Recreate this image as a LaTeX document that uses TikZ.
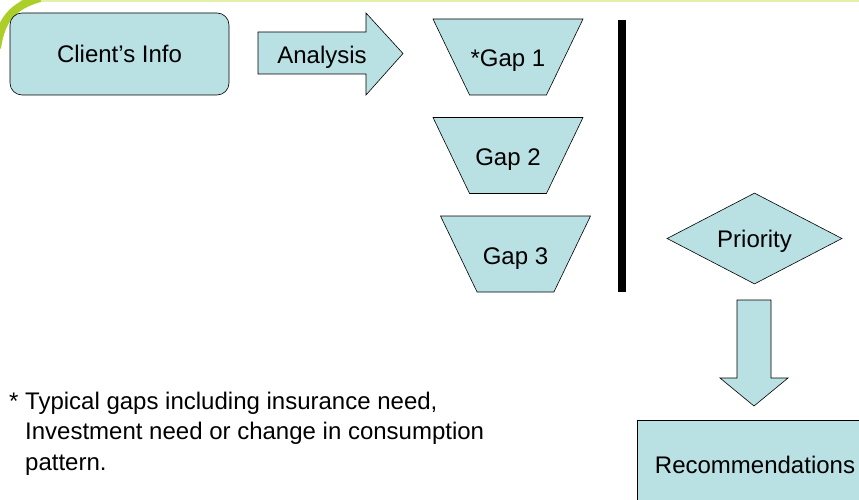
\documentclass[tikz,border=0pt]{standalone}
\usepackage{fontspec}
\setmainfont{Liberation Sans}
\usetikzlibrary{shapes.geometric}
\definecolor{boxfill}{RGB}{185,224,227}
\definecolor{swoosh}{RGB}{172,206,40}
\definecolor{topline}{RGB}{226,240,170}
\begin{document}
\begin{tikzpicture}[x=1pt,y=-1pt,
  shapebox/.style={draw=black, fill=boxfill, line width=0.6pt},
  txt/.style={font=\fontsize{24}{28}\selectfont},
  gapbox/.style={shapebox, txt, trapezium, shape border rotate=180,
    trapezium left angle=64.3, trapezium right angle=64.3,
    trapezium stretches body, text height=20pt, text depth=0pt,
    inner ysep=28pt, inner xsep=0pt, minimum width=150pt}
]
\useasboundingbox (0,0) rectangle (859,500);
\clip (0,0) rectangle (859,500);
\fill[white] (0,0) rectangle (859,500);

% slide decoration in the corner and along the top edge
\draw[topline, line width=2pt] (20,1) -- (859,1);
\draw[swoosh, line width=8pt] (-3,48) .. controls (1,20) and (12,6) .. (40,-2);

% client information
\node (client) [shapebox, txt, rounded corners=12pt, minimum width=219pt,
  minimum height=82pt, inner sep=0pt, text height=17pt, text depth=0pt]
  at (119.5,54) {Client’s Info};

% block arrow carrying the analysis step
\coordinate (a1) at (258,32);
\coordinate (a2) at (366,32);
\coordinate (a3) at (366,13);
\coordinate (atip) at (403,53.5);
\coordinate (a5) at (366,95);
\coordinate (a6) at (366,74);
\coordinate (a7) at (258,74);
\draw[shapebox] (a1) -- (a2) -- (a3) -- (atip) -- (a5) -- (a6) -- (a7) -- cycle;
\node (analysis) [txt, inner sep=0pt, text height=17pt, text depth=0pt] at (322,55) {Analysis};

% the gaps
\node (gap1) [gapbox] at (508,57) {*Gap 1};
\node (gap2) [gapbox] at (508,155.5) {Gap 2};
\node (gap3) [gapbox] at (515.5,254) {Gap 3};

% vertical bar
\node (bar) [fill=black, minimum width=8pt, minimum height=272pt, inner sep=0pt] at (622,156) {};

% priority decision
\node (priority) [shapebox, txt, diamond, aspect=1.92, minimum width=175pt,
  minimum height=91pt, inner sep=0pt, text height=17pt, text depth=0pt]
  at (754.5,238.5) {Priority};

% downward block arrow
\coordinate (d1) at (737,300);
\coordinate (d2) at (771,300);
\coordinate (d3) at (771,378);
\coordinate (d4) at (788,378);
\coordinate (dtip) at (754,406);
\coordinate (d6) at (720,378);
\coordinate (d7) at (737,378);
\draw[shapebox] (d1) -- (d2) -- (d3) -- (d4) -- (dtip) -- (d6) -- (d7) -- cycle;

% recommendations
\node (recs) [shapebox, txt, minimum width=236pt, minimum height=90pt,
  inner sep=0pt] at (755,465) {Recommendations};

% footnote
\node (note) [anchor=north west, align=left, inner sep=0pt,
  font=\fontsize{24}{30.5}\selectfont] at (9,391.5)
  {* Typical gaps including insurance need,\\
   \hspace*{16pt}Investment need or change in consumption\\
   \hspace*{16pt}pattern.};
\end{tikzpicture}
\end{document}
